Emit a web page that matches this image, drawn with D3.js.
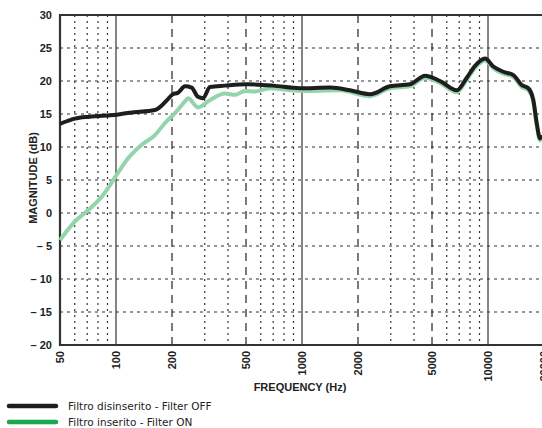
<!DOCTYPE html>
<html>
<head>
<meta charset="utf-8">
<script src="https://cdn.jsdelivr.net/npm/d3@7"></script>
<style>
  body { margin: 0; background: #fff; }
  svg { display: block; }
  .tick-lbl { font-family: 'Liberation Sans', Arial, sans-serif; font-weight: bold; font-size: 11px; fill: #222; }
  .legend { font-family: 'DejaVu Sans', Verdana, sans-serif; font-size: 10.5px; fill: #222; }
</style>
</head>
<body>
<svg id="chart" width="542" height="428"></svg>
<script>
// frequency response
var freqOff = [50, 60, 72, 101, 119, 162, 188, 202, 215, 235, 255, 276, 294, 320, 385, 506, 698, 976, 1415, 1811, 2320, 2970, 3810, 4590, 5520, 6790, 7690, 8520, 9640, 10690, 12090, 13680, 15180, 16480, 17530, 18280, 19050, 19500]
var magOff = [13.5, 14.3, 14.6, 14.9, 15.2, 15.6, 17.1, 18.0, 18.2, 19.2, 19.0, 17.6, 17.4, 19.1, 19.3, 19.5, 19.3, 18.9, 19.0, 18.6, 18.0, 19.2, 19.5, 20.8, 20.0, 18.6, 20.5, 22.3, 23.4, 22.2, 21.4, 20.9, 19.4, 18.9, 17.1, 13.6, 11.3, 11.8]

var freqOn = [50, 60, 71, 84, 101, 114, 137, 162, 183, 207, 235, 244, 276, 320, 385, 436, 494, 558, 672, 862, 1104, 1600, 2320, 2970, 3810, 4590, 5520, 6790, 7690, 8520, 9640, 10690, 12090, 13680, 15180, 16480, 17530, 18280, 19050, 19500]
var magOn = [-4.1, -1.3, 0.45, 2.5, 5.8, 8.0, 10.3, 11.8, 13.6, 15.1, 16.9, 17.4, 16.0, 17.1, 18.1, 17.9, 18.5, 18.4, 18.9, 18.6, 18.5, 18.6, 17.7, 18.9, 19.2, 20.5, 19.7, 18.3, 20.2, 22.0, 23.1, 21.9, 21.1, 20.6, 19.1, 18.6, 16.8, 13.3, 11.0, 11.5]

var yTicks = [30, 25, 20, 15, 10, 5, 0, -5, -10, -15, -20]
var xLabels = [50, 100, 200, 500, 1000, 2000, 5000, 10000, 20000]
var solidLines = [100, 1000, 10000]
var dashLines = [200, 500, 2000, 5000]
var dotLines = [60, 70, 80, 90, 300, 400, 600, 700, 800, 900, 3000, 4000, 6000, 7000, 8000, 9000]

var legendItems = [
  { label: 'Filtro disinserito - Filter OFF', color: '#1e1e1e' },
  { label: 'Filtro inserito - Filter ON', color: '#17a94f' }
]

var svg = d3.select('#chart')
var pLeft = 60, pTop = 15, pBottom = 345, pRight = 544

var x = d3.scaleLog().domain([50, 20000]).range([pLeft, pRight])
var y = d3.scaleLinear().domain([-20, 30]).range([pBottom, pTop])

var grid = svg.append('g')

// horizontal dotted grid
grid.selectAll('.hg').data(yTicks.filter(function (d) { return d > -20 && d < 30 }))
  .enter().append('line')
  .attr('x1', pLeft).attr('x2', pRight)
  .attr('y1', function (d) { return y(d) }).attr('y2', function (d) { return y(d) })
  .attr('stroke', '#333').attr('stroke-width', 1.2).attr('stroke-dasharray', '3,4')

// vertical grid
function vlines(data, dash, w) {
  grid.selectAll(null).data(data).enter().append('line')
    .attr('x1', function (d) { return x(d) }).attr('x2', function (d) { return x(d) })
    .attr('y1', pTop).attr('y2', pBottom)
    .attr('stroke', '#333').attr('stroke-width', w)
    .attr('stroke-dasharray', dash)
}
vlines(dotLines, '2,4', 1.2)
vlines(dashLines, '8,6', 1.3)
vlines(solidLines, null, 1.2)

// frame
svg.append('path')
  .attr('d', 'M' + pRight + ',' + pTop + 'H' + pLeft + 'V' + pBottom + 'H' + pRight)
  .attr('fill', 'none').attr('stroke', '#333').attr('stroke-width', 2.2)

// y labels
svg.selectAll('.ylbl').data(yTicks).enter().append('text')
  .attr('class', 'tick-lbl')
  .attr('x', 52).attr('y', function (d) { return y(d) + 4 })
  .attr('text-anchor', 'end')
  .text(function (d) { return d < 0 ? '\u2013 ' + Math.abs(d) : d })

// x labels, rotated
svg.selectAll('.xlbl').data(xLabels).enter().append('text')
  .attr('class', 'tick-lbl')
  .attr('transform', function (d) { return 'translate(' + (x(d) + 4) + ',351) rotate(-90)' })
  .attr('text-anchor', 'end')
  .text(function (d) { return d })

svg.append('text').attr('class', 'tick-lbl')
  .attr('x', 300).attr('y', 391).attr('text-anchor', 'middle')
  .text('FREQUENCY (Hz)')

svg.append('text').attr('class', 'tick-lbl')
  .attr('transform', 'translate(37,178) rotate(-90)')
  .attr('text-anchor', 'middle')
  .text('MAGNITUDE (dB)')

// curves
var line = d3.line()
  .x(function (d) { return x(d[0]) })
  .y(function (d) { return y(d[1]) })
  .curve(d3.curveMonotoneX)

svg.append('path')
  .datum(d3.zip(freqOn, magOn))
  .attr('d', line)
  .attr('fill', 'none').attr('stroke', '#93d4ab').attr('stroke-width', 4)
  .attr('stroke-linejoin', 'round')

svg.append('path')
  .datum(d3.zip(freqOff, magOff))
  .attr('d', line)
  .attr('fill', 'none').attr('stroke', '#1e1e1e').attr('stroke-width', 4)
  .attr('stroke-linejoin', 'round')

// legend
var lg = svg.selectAll('.lg').data(legendItems).enter().append('g')
  .attr('transform', function (d, i) { return 'translate(0,' + (406 + i * 16) + ')' })
lg.append('line').attr('x1', 9).attr('x2', 56)
  .attr('stroke', function (d) { return d.color }).attr('stroke-width', 4.5)
  .attr('stroke-linecap', 'round')
lg.append('text').attr('class', 'legend')
  .attr('x', 68).attr('y', 4)
  .text(function (d) { return d.label })
</script>
</body>
</html>
